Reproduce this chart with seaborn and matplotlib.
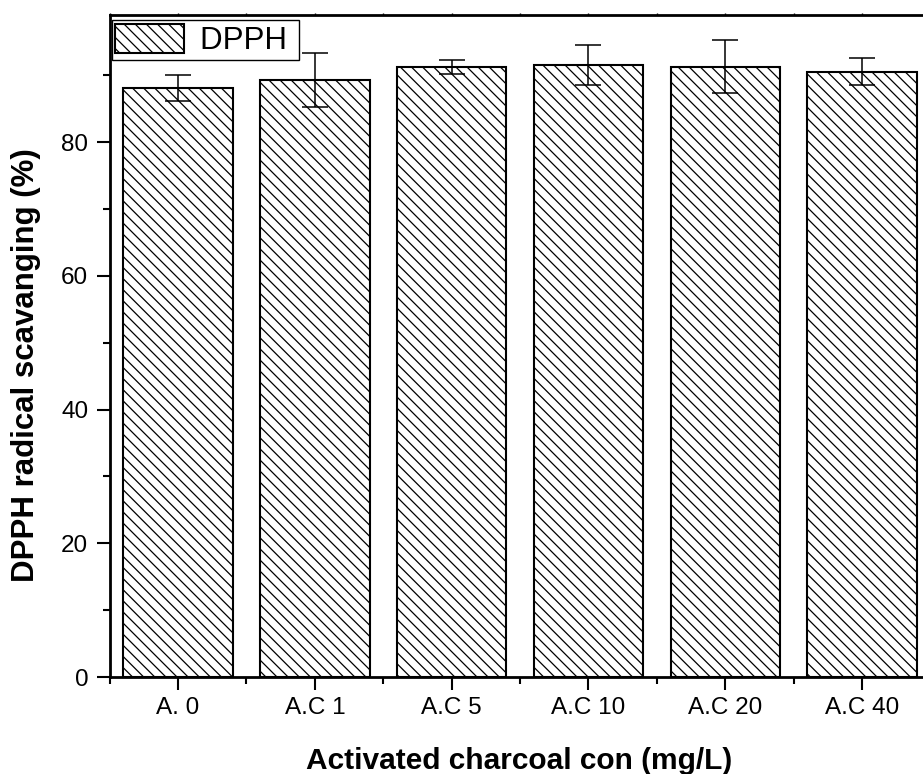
import numpy as np
import pandas as pd
import matplotlib
matplotlib.use('Agg')
import matplotlib.pyplot as plt
from matplotlib.ticker import MultipleLocator
import seaborn as sns

# Data (mean +/- error)
categories = ['A. 0', 'A.C 1', 'A.C 5', 'A.C 10', 'A.C 20', 'A.C 40']
dpph_mean = [88.1, 89.3, 91.2, 91.5, 91.3, 90.5]
dpph_err = [2.0, 4.0, 1.0, 3.0, 4.0, 2.0]

df = pd.DataFrame({'group': categories, 'DPPH': dpph_mean, 'err': dpph_err})

# Style
sns.set_style('ticks')
plt.rcParams['font.family'] = ['Liberation Sans', 'DejaVu Sans']
plt.rcParams['hatch.linewidth'] = 0.9
plt.rcParams['hatch.color'] = 'black'
for key in ['text.color', 'axes.labelcolor', 'xtick.color', 'ytick.color', 'axes.edgecolor']:
    plt.rcParams[key] = 'black'

fig = plt.figure(figsize=(9.23, 7.74), dpi=100)
ax = fig.add_axes([0.1188, 0.1253, 0.8893, 0.8553])

# Bars
sns.barplot(data=df, x='group', y='DPPH', color='white', saturation=1,
            edgecolor='black', linewidth=1.5, hatch='\\\\\\', width=0.8,
            errorbar=None, ax=ax)

# Error bars
ax.errorbar(np.arange(len(categories)), df['DPPH'], yerr=df['err'], fmt='none',
            ecolor='black', elinewidth=1.1, capsize=9.4, capthick=1.1, zorder=5)

# Axes limits and ticks
ax.set_xlim(-0.5, len(categories) - 0.5)
ax.set_ylim(0, 99)
ax.yaxis.set_major_locator(MultipleLocator(20))
ax.yaxis.set_minor_locator(MultipleLocator(10))
ax.xaxis.set_minor_locator(MultipleLocator(0.5))
ax.tick_params(which='major', length=9.4, width=1.5, labelsize=17.5, direction='out')
ax.tick_params(which='minor', length=5, width=1.5, direction='out')
ax.tick_params(axis='x', which='both', top=True, bottom=True)
ax.tick_params(axis='y', pad=6)
ax.tick_params(axis='x', pad=5)
for t in ax.xaxis.get_major_ticks() + ax.xaxis.get_minor_ticks():
    t.tick2line.set_markersize(1.5)
    t.tick2line.set_markeredgewidth(1)

for side in ['left', 'bottom', 'top']:
    ax.spines[side].set_linewidth(2)
ax.spines['right'].set_visible(False)

# Labels
ax.set_xlabel('Activated charcoal con (mg/L)', fontsize=21.5, fontweight='bold')
ax.set_ylabel('DPPH radical scavanging (%)', fontsize=22.5, fontweight='bold')
ax.xaxis.set_label_coords(0.4985, -0.105)
ax.yaxis.set_label_coords(-0.084, 0.4705)

# Legend (trailing space widens the box like the original)
leg = ax.legend([ax.patches[0]], ['DPPH '], loc='upper left',
                bbox_to_anchor=(0.0024, 0.9924), borderaxespad=0,
                fontsize=22.5, handlelength=2.2, handleheight=1.05,
                borderpad=0.12, handletextpad=0.5, fancybox=False,
                frameon=True, framealpha=1)
leg.get_frame().set_edgecolor('black')
leg.get_frame().set_linewidth(1)

plt.savefig('out.png', dpi=100)
